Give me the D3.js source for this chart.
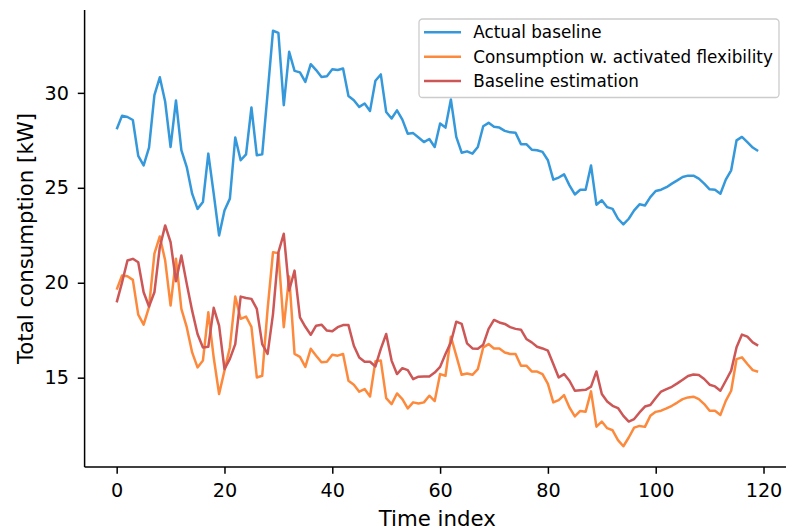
<!DOCTYPE html>
<html>
<head>
<meta charset="utf-8">
<script src="https://cdn.jsdelivr.net/npm/d3@7"></script>
<style>
html,body{margin:0;padding:0;background:#fff;}
svg text{font-family:"DejaVu Sans",sans-serif;}
</style>
</head>
<body>
<svg id="chart" width="786" height="532"></svg>
<script>
const actualBaseline = [28.08,28.80,28.73,28.57,26.68,26.18,27.12,29.88,30.82,29.53,27.15,29.60,26.98,26.09,24.69,23.89,24.25,26.80,24.69,22.49,23.81,24.43,27.65,26.45,26.76,29.23,26.71,26.76,29.97,33.27,33.16,29.35,32.16,31.16,31.08,30.58,31.51,31.20,30.84,30.88,31.24,31.20,31.28,29.83,29.61,29.26,29.44,29.05,30.64,30.97,28.99,28.65,29.08,28.59,27.85,27.88,27.65,27.41,27.57,27.15,28.39,28.17,29.65,27.68,26.85,26.92,26.80,27.15,28.24,28.42,28.21,28.17,28.00,27.92,27.90,27.30,27.30,27.01,26.98,26.89,26.45,25.43,25.54,25.71,25.13,24.65,24.90,24.90,26.18,24.11,24.34,23.98,23.89,23.37,23.07,23.37,23.81,24.13,24.07,24.51,24.83,24.90,25.03,25.22,25.39,25.57,25.64,25.64,25.48,25.22,24.92,24.90,24.69,25.43,25.92,27.50,27.68,27.41,27.12,26.94];
const flexConsumption = [19.64,20.38,20.34,20.15,18.32,17.79,18.71,21.53,22.44,21.17,18.80,21.26,18.62,17.66,16.33,15.54,15.90,18.44,16.06,14.14,15.37,16.59,19.27,18.10,18.22,17.68,15.01,15.10,18.61,21.60,21.56,17.66,20.33,16.25,16.10,15.57,16.52,16.16,15.81,15.84,16.21,16.16,16.25,14.84,14.63,14.26,14.40,14.01,15.86,15.90,13.92,13.61,14.17,13.87,13.38,13.70,13.64,13.70,14.05,13.77,15.19,15.10,17.16,16.16,15.15,15.22,15.15,15.45,16.59,16.77,16.54,16.54,16.33,16.25,16.25,15.63,15.63,15.33,15.32,15.19,14.67,13.70,13.82,14.08,13.43,12.96,13.25,13.21,14.28,12.42,12.69,12.34,12.23,11.71,11.39,11.85,12.37,12.46,12.41,12.99,13.20,13.26,13.38,13.52,13.69,13.87,13.96,14.00,13.87,13.61,13.26,13.26,13.04,13.78,14.31,15.98,16.07,15.72,15.40,15.31];
const baselineEstimation = [18.97,20.02,21.17,21.26,21.08,19.50,18.75,19.50,21.87,23.02,22.14,20.08,21.44,19.94,18.53,17.30,16.59,16.63,18.68,17.74,15.45,15.99,16.77,19.27,19.20,19.15,18.62,16.77,16.25,18.35,21.60,22.58,19.59,20.64,18.18,17.68,17.26,17.74,17.79,17.48,17.44,17.66,17.77,17.77,16.68,16.06,15.84,15.84,15.59,16.52,17.30,15.90,15.19,15.50,15.40,14.92,15.05,15.06,15.06,15.27,15.57,16.25,16.86,17.95,17.83,16.81,16.54,16.52,16.74,17.57,18.04,17.91,17.83,17.66,17.57,17.53,17.04,16.86,16.63,16.54,16.42,15.72,15.01,15.19,14.84,14.31,14.34,14.36,14.53,15.33,14.14,13.75,13.52,13.40,12.99,12.69,12.82,13.17,13.48,13.56,13.93,14.27,14.40,14.52,14.70,14.89,15.09,15.17,15.14,14.93,14.63,14.54,14.31,14.84,15.37,16.60,17.27,17.16,16.86,16.69];
const xTicks = [0,20,40,60,80,100,120];
const yTicks = [15,20,25,30];
const seriesNames = ["Actual baseline","Consumption w. activated flexibility","Baseline estimation"];
const seriesColors = ["#3498db","#fd8a3c","#cd5656"];

const svg = d3.select("#chart");
const n = actualBaseline.length;
const all = actualBaseline.concat(flexConsumption, baselineEstimation);
const ymin = d3.min(all), ymax = d3.max(all);
const ypad = (ymax - ymin) * 0.05, xpad = (n - 1) * 0.05;

const x = d3.scaleLinear().domain([-xpad, n - 1 + xpad]).range([84.6, 790.2]);
const y = d3.scaleLinear().domain([ymin - ypad, ymax + ypad]).range([467, 10]);

const line = d3.line().x((d, i) => x(i)).y(d => y(d));
[actualBaseline, flexConsumption, baselineEstimation].forEach((s, k) => {
  svg.append("path").datum(s).attr("d", line)
    .attr("fill", "none").attr("stroke", seriesColors[k])
    .attr("stroke-width", 2.5).attr("stroke-linejoin", "round").attr("stroke-linecap", "butt");
});

const xAxis = svg.append("g").attr("transform", `translate(0,${y.range()[0]})`)
  .call(d3.axisBottom(x).tickValues(xTicks).tickSize(6.8).tickPadding(10).tickSizeOuter(0));
const yAxis = svg.append("g").attr("transform", `translate(${x.range()[0]},0)`)
  .call(d3.axisLeft(y).tickValues(yTicks).tickSize(6.8).tickPadding(8.9).tickSizeOuter(0));
[xAxis, yAxis].forEach(g => {
  g.select(".domain").attr("stroke", "#000").attr("stroke-width", 1.5);
  g.selectAll(".tick line").attr("stroke", "#000").attr("stroke-width", 1.5);
  g.selectAll(".tick text").attr("font-size", 19.2).attr("fill", "#000")
    .attr("font-family", "DejaVu Sans");
});
xAxis.select(".domain").attr("d", `M${x.range()[0]},0H786`);
yAxis.select(".domain").attr("d", `M0,${y.range()[0]}V${y.range()[1]}`);

svg.append("text").attr("x", (x.range()[0] + 786) / 2 + 2).attr("y", 526)
  .attr("text-anchor", "middle").attr("font-size", 21.3).text("Time index");
svg.append("text").attr("transform", `translate(25,${(y.range()[0] + y.range()[1]) / 2}) rotate(-90)`)
  .attr("text-anchor", "middle").attr("dominant-baseline", "central")
  .attr("font-size", 21.3).text("Total consumption [kW]");

const lg = svg.append("g");
lg.append("rect").attr("x", 419).attr("y", 19).attr("width", 360).attr("height", 78.5)
  .attr("rx", 3.5).attr("fill", "#fff").attr("fill-opacity", 0.8)
  .attr("stroke", "#cccccc").attr("stroke-width", 1.3);
seriesNames.forEach((name, k) => {
  const yy = 32.3 + k * 24.4;
  lg.append("line").attr("x1", 424).attr("x2", 461).attr("y1", yy).attr("y2", yy)
    .attr("stroke", seriesColors[k]).attr("stroke-width", 2.5);
  lg.append("text").attr("x", 473.3).attr("y", yy).attr("dy", "0.36em")
    .attr("font-size", 16.8).attr("fill", "#000").text(name);
});
</script>
</body>
</html>
